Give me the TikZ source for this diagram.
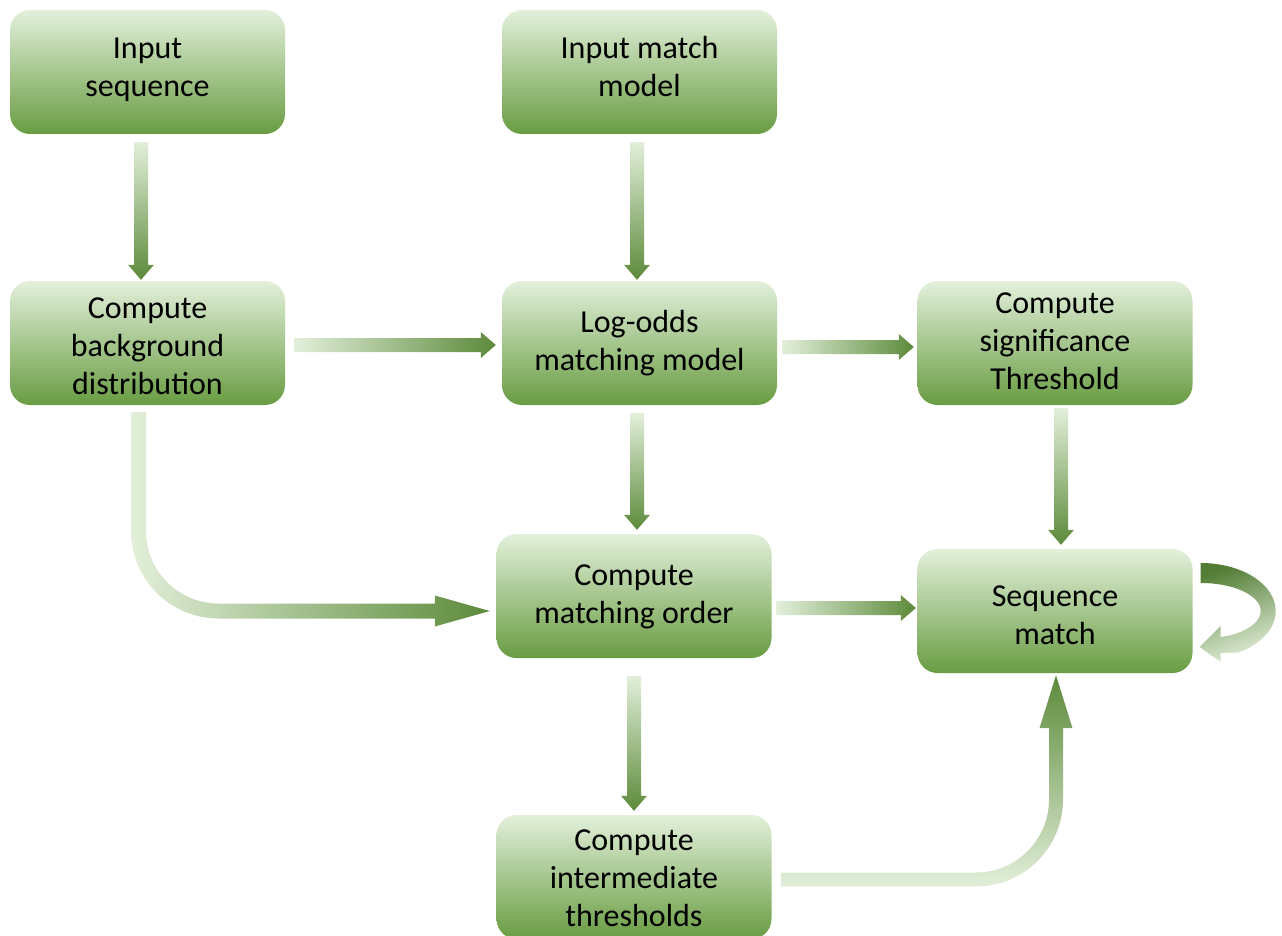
\documentclass[tikz,border=0pt]{standalone}
\usepackage{fontspec}
\setmainfont{Carlito}
\usetikzlibrary{calc}
\definecolor{boxtop}{RGB}{227,240,219}
\definecolor{boxbot}{RGB}{104,156,66}
\definecolor{arrlight}{RGB}{226,239,218}
\definecolor{arrdark}{RGB}{92,138,58}
\tikzset{
  stepbox/.style={rounded corners=20pt, minimum width=275pt, minimum height=124pt,
    top color=boxtop, bottom color=boxbot, draw=none, align=center, inner sep=0pt,
    font=\fontsize{32pt}{38pt}\selectfont, text=black},
  downshade/.style={top color=arrlight, bottom color=arrdark, draw=none},
  rightshade/.style={left color=arrlight, right color=arrdark, draw=none},
  upshade/.style={bottom color=arrlight, top color=arrdark, draw=none}
}
% struts fixing where the text block sits in its box (#1 = shift down in px)
\newcommand\Ltop[1]{\rule{0pt}{\dimexpr29pt+#1pt\relax}}
\newcommand\Lbot[1]{\rule[\dimexpr-9pt+#1pt\relax]{0pt}{\dimexpr9pt-#1pt\relax}}
% vertical down arrow from #1 to tip #2
\newcommand\downarr[2]{%
  \shade[downshade] let \p1=#1, \p2=#2 in
    (\x1-7pt,\y1) -- (\x1+7pt,\y1) -- (\x1+7pt,\y2+15pt) -- (\x1+13pt,\y2+15pt)
    -- (\x1,\y2) -- (\x1-13pt,\y2+15pt) -- (\x1-7pt,\y2+15pt) -- cycle;}
% horizontal right arrow from #1 to tip #2
\newcommand\rightarr[2]{%
  \shade[rightshade] let \p1=#1, \p2=#2 in
    (\x1,\y1+7pt) -- (\x2-15pt,\y1+7pt) -- (\x2-15pt,\y1+13pt) -- (\x2,\y1)
    -- (\x2-15pt,\y1-13pt) -- (\x2-15pt,\y1-7pt) -- (\x1,\y1-7pt) -- cycle;}
\begin{document}
\begin{tikzpicture}[x=1pt,y=-1pt]
\useasboundingbox (0,0) rectangle (1282,936);
\node[stepbox] (inseq) at (147.5,72) {\Ltop{-4.5}Input\\sequence\Lbot{-4.5}};
\node[stepbox] (inmm) at (639.5,72) {\Ltop{-4.5}Input match\\model\Lbot{-4.5}};
\node[stepbox] (bg) at (147.5,343) {\Ltop{3}Compute\\background\\distribution\Lbot{3}};
\node[stepbox] (lo) at (639.5,343) {\Ltop{-2}Log-odds\\matching model\Lbot{-2}};
\node[stepbox] (sig) at (1055,343) {\Ltop{-2}Compute\\significance\\Threshold\Lbot{-2}};
\node[stepbox] (mo) at (634,596) {\Ltop{-2}Compute\\matching order\Lbot{-2}};
\node[stepbox] (sm) at (1055,611) {\Ltop{4.5}Sequence\\match\Lbot{4.5}};
\node[stepbox] (it) at (634,877) {\Ltop{1}Compute\\intermediate\\thresholds\Lbot{1}};

\downarr{($(inseq.south)+(-6.5,8)$)}{($(bg.north)+(-6.5,-1)$)}
\downarr{($(inmm.south)+(-2.5,8)$)}{($(lo.north)+(-2.5,-1)$)}
\rightarr{($(bg.east)+(9,2)$)}{($(lo.west)+(-6,2)$)}
\rightarr{($(lo.east)+(5,4)$)}{($(sig.west)+(-3.5,4)$)}
\downarr{($(lo.south)+(-2.5,8)$)}{($(mo.north)+(3,-4)$)}
\downarr{($(sig.south)+(6,3)$)}{($(sm.north)+(6,-4)$)}
\rightarr{($(mo.east)+(5,12)$)}{($(sm.west)+(-1.5,-3)$)}
\downarr{($(mo.south)+(0,18)$)}{($(it.north)+(0,-4)$)}

% background distribution -> matching order (curved)
\shade[rightshade] let \p1=($(bg.south)+(-9,7)$), \p2=($(mo.west)+(-6.5,15)$) in
  (\x1-7.5pt,\y1) -- (\x1-7.5pt,\y2+80pt) arc (180:270:87.5pt)
  -- (\x2-55pt,\y2-7.5pt) -- (\x2-55pt,\y2-15.5pt) -- (\x2,\y2)
  -- (\x2-55pt,\y2+15.5pt) -- (\x2-55pt,\y2+7.5pt) -- (\x1+80pt,\y2+7.5pt)
  arc (270:180:72.5pt) -- (\x1+7.5pt,\y1) -- cycle;

% intermediate thresholds -> sequence match (curved)
\shade[upshade] let \p1=($(it.east)+(10,2.5)$), \p2=($(sm.south)+(1,2)$) in
  (\x1,\y1-7pt) -- (\x2-80pt,\y1-7pt) arc (270:360:87pt)
  -- (\x2+7pt,\y2-53pt) -- (\x2+16.5pt,\y2-53pt) -- (\x2,\y2)
  -- (\x2-16.5pt,\y2-53pt) -- (\x2-7pt,\y2-53pt) -- (\x2-7pt,\y1+80pt)
  arc (360:270:73pt) -- (\x1,\y1+7pt) -- cycle;

% self loop on sequence match
\shade[top color=arrdark!90!black, bottom color=arrlight, shading angle=20] let \p1=($(sm.east)+(8,0)$) in
  (\x1,\y1+48pt) arc (90:-60:75pt and 48pt)
  -- (\x1+20pt,\y1-42pt) -- (\x1+20pt,\y1-51pt) -- (\x1-1pt,\y1-36pt)
  -- (\x1+20pt,\y1-15pt) -- (\x1+20pt,\y1-26pt) -- (\x1+30pt,\y1-24.25pt)
  arc (-60:90:60pt and 28pt) -- cycle;
\end{tikzpicture}
\end{document}
